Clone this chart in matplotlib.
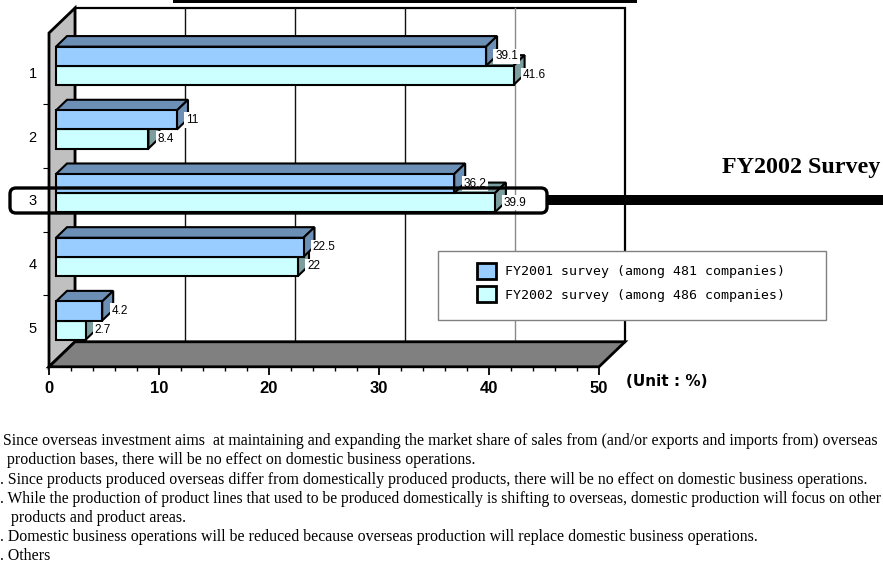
import matplotlib
matplotlib.use("Agg")
import matplotlib.pyplot as plt
from matplotlib.patches import Polygon, Rectangle, FancyBboxPatch, Patch
from matplotlib.ticker import MultipleLocator, FixedLocator, NullFormatter

# ---- data -------------------------------------------------------------
categories = ["1", "2", "3", "4", "5"]
fy2001 = [39.1, 11, 36.2, 22.5, 4.2]
fy2002 = [41.6, 8.4, 39.9, 22, 2.7]
series_labels = ["FY2001 survey (among 481 companies)",
                 "FY2002 survey (among 486 companies)"]
value_ticks = [0, 10, 20, 30, 40, 50]
highlight_title = "FY2002 Survey"
unit_label = "(Unit : %)"
notes = [
    "Since overseas investment aims  at maintaining and expanding the market share of sales from (and/or exports and imports from) overseas",
    "production bases, there will be no effect on domestic business operations.",
    ". Since products produced overseas differ from domestically produced products, there will be no effect on domestic business operations.",
    ". While the production of product lines that used to be produced domestically is shifting to overseas, domestic production will focus on other",
    "products and product areas.",
    ". Domestic business operations will be reduced because overseas production will replace domestic business operations.",
    ". Others",
]

# ---- layout -----------------------------------------------------------
W, H, DPI = 883, 563, 100
SANS = "Liberation Sans"
SERIF = "Liberation Serif"
MONO = "DejaVu Sans Mono"

fig = plt.figure(figsize=(W / DPI, H / DPI), dpi=DPI)
fig.patch.set_facecolor("white")


def fx(px):
    return px / W


def fy(py):
    return 1 - py / H


def inch(px):
    return px / DPI


# front plane of the 3-D box (pixels per unit on each axis)
Y_TOP, Y_BOT = 0.38, 5.62
PX_X = 11.0
PX_Y = 63.7
ax_left, ax_top = 49, 33
ax_w = 50 * PX_X
ax_h = (Y_BOT - Y_TOP) * PX_Y
ax = fig.add_axes([fx(ax_left), fy(ax_top + ax_h), ax_w / W, ax_h / H])
ax.set_xlim(value_ticks[0], value_ticks[-1])
ax.set_ylim(Y_BOT, Y_TOP)
ax.patch.set_visible(False)
for s in ax.spines.values():
    s.set_visible(False)

# depth vector of the box, in data units
DX = 26 / PX_X
DY = -25 / PX_Y
XMAX = value_ticks[-1]


def P(x, y, d):
    return (x + d * DX, y + d * DY)


def face(pts, fc, lw=1.5, z=1.0, ec="black"):
    ax.add_patch(Polygon(pts, closed=True, fc=fc, ec=ec, lw=lw, zorder=z,
                         clip_on=False, joinstyle="miter"))


# back wall, gridlines, side wall and floor
face([P(0, Y_TOP, 1), P(XMAX, Y_TOP, 1), P(XMAX, Y_BOT, 1), P(0, Y_BOT, 1)],
     "white", lw=1.6, z=0.5)
grid_colors = {10: "#111111", 20: "#111111", 30: "#111111", 40: "#8a8a8a"}
for v in value_ticks[1:-1]:
    x0, yb = P(v, Y_BOT, 1)
    _, yt = P(v, Y_TOP, 1)
    ax.plot([x0, x0], [yb, yt], color=grid_colors[v], lw=1.0, zorder=0.6,
            clip_on=False)
face([P(0, Y_TOP, 0), P(0, Y_TOP, 1), P(0, Y_BOT, 1), P(0, Y_BOT, 0)],
     "#C0C0C0", lw=2.0, z=0.7)
face([P(0, Y_BOT, 0), P(XMAX, Y_BOT, 0), P(XMAX, Y_BOT, 1), P(0, Y_BOT, 1)],
     "#808080", lw=2.0, z=0.7)

# 3-D bars
D0, D1 = 7 / 26, 18 / 26
BAR_H = 0.3
style_2001 = dict(front="#99CCFF", top="#6C8FB6", side="#6C8FB6")
style_2002 = dict(front="#CCFFFF", top="#7C9E9E", side="#7C9E9E")

zc = [2.0]


def box(v, yt, yb, st):
    z = zc[0]
    face([P(0, yt, D0), P(v, yt, D0), P(v, yt, D1), P(0, yt, D1)], st["top"], z=z)
    face([P(v, yt, D0), P(v, yt, D1), P(v, yb, D1), P(v, yb, D0)], st["side"], z=z + 0.01)
    face([P(0, yt, D0), P(v, yt, D0), P(v, yb, D0), P(0, yb, D0)], st["front"], z=z + 0.02)
    zc[0] += 0.05


def value_label(v, yt, yb):
    x, y = P(v, (yt + yb) / 2, D0)
    ax.annotate(f"{v:g}", xy=(x, y), xytext=(6.5, 0), textcoords="offset points",
                ha="left", va="center", fontsize=8.5, family=SANS,
                bbox=dict(fc="white", ec="none", pad=1.2), zorder=6,
                annotation_clip=False)


for i, (a, b) in enumerate(zip(fy2001, fy2002)):
    yc = i + 1
    box(b, yc, yc + BAR_H, style_2002)
    box(a, yc - BAR_H, yc, style_2001)
for i, (a, b) in enumerate(zip(fy2001, fy2002)):
    yc = i + 1
    value_label(a, yc - BAR_H, yc)
    value_label(b, yc, yc + BAR_H)

# value axis along the front edge of the floor
ax.xaxis.set_major_locator(FixedLocator(value_ticks))
ax.xaxis.set_minor_locator(MultipleLocator(2))
ax.set_xticklabels([str(t) for t in value_ticks])
ax.tick_params(axis="x", which="major", direction="out", length=6, width=1.3,
               pad=4, labelsize=12)
ax.tick_params(axis="x", which="minor", direction="out", length=3, width=1.0)
for lab in ax.get_xticklabels():
    lab.set_fontweight("bold")
    lab.set_family(SANS)

# category axis along the front edge of the side wall
ax.set_yticks([1.5, 2.5, 3.5, 4.5])
ax.yaxis.set_major_formatter(NullFormatter())
ax.set_yticks(range(1, len(categories) + 1), labels=categories, minor=True)
ax.tick_params(axis="y", which="major", direction="out", length=4, width=0.8)
ax.tick_params(axis="y", which="minor", length=0, pad=9, labelsize=10.5)
for lab in ax.get_yticklabels(minor=True):
    lab.set_family(SANS)

fig.text(fx(626), fy(381), unit_label, ha="left", va="center",
         fontsize=11, fontweight="bold", family="DejaVu Sans")

# title underline at the top edge
fig.add_artist(Rectangle((inch(173), inch(H - 2.5)), inch(464), inch(2.5),
                         transform=fig.dpi_scale_trans, fc="black", ec="none"))

# callout on the FY2002 bar of category 3
fig.add_artist(FancyBboxPatch((inch(10), inch(H - 213)), inch(537), inch(25),
                              boxstyle="round,pad=0,rounding_size=0.06",
                              transform=fig.dpi_scale_trans, fc="none",
                              ec="black", lw=2.4, zorder=7))
fig.add_artist(Rectangle((inch(547), inch(H - 205)), inch(W - 547), inch(10),
                         transform=fig.dpi_scale_trans, fc="black", ec="none",
                         zorder=7))
fig.text(fx(722), fy(167), highlight_title, ha="left", va="center",
         fontsize=17.3, fontweight="bold", family=SERIF)

# legend
fig.add_artist(Rectangle((inch(438), inch(H - 320)), inch(388), inch(69),
                         transform=fig.dpi_scale_trans, fc="white",
                         ec="#808080", lw=1.0, zorder=8))
handles = [Patch(fc=style_2001["front"], ec="black", lw=2),
           Patch(fc=style_2002["front"], ec="black", lw=2)]
fig.legend(handles, series_labels, loc="upper left",
           bbox_to_anchor=(fx(477), fy(263)), frameon=False,
           prop=dict(family=MONO, size=9.5), handlelength=1.44,
           handleheight=1.44, handletextpad=0.65, labelspacing=0.6,
           borderpad=0, borderaxespad=0).set_zorder(9)

# explanatory notes for categories
note_x = [3, 7, 0, 0, 11, 0, 0]
note_sizes = [11.4, 11.4, 11.4, 11.25, 11.4, 11.4, 11.4]
note_baselines = [445, 464, 484, 503, 522, 541, 560]
for s, x, fs, yb in zip(notes, note_x, note_sizes, note_baselines):
    fig.text(fx(x), fy(yb), s, ha="left", va="baseline", fontsize=fs,
             family=SERIF)

fig.savefig("out.png", dpi=DPI)
